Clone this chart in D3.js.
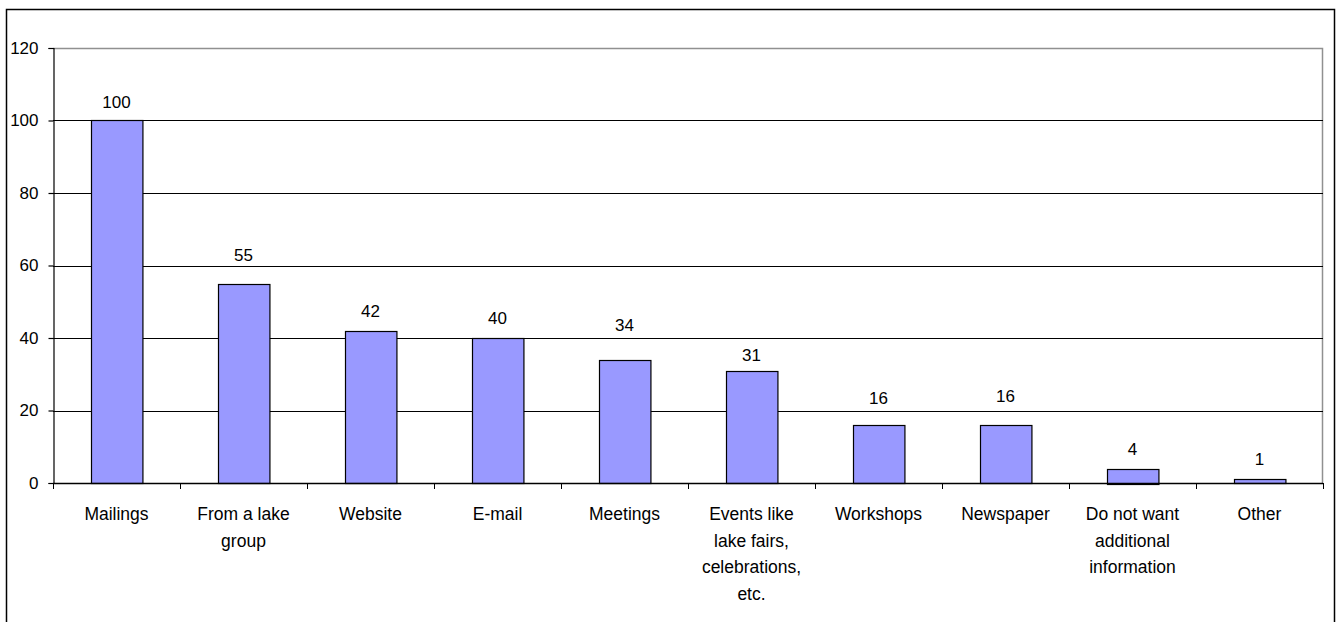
<!DOCTYPE html>
<html><head><meta charset="utf-8">
<script src="https://cdn.jsdelivr.net/npm/d3@7"></script>
<style>body{margin:0;background:#fff}svg{display:block}text{font-family:"Liberation Sans",Arial,sans-serif;fill:#000}</style>
</head><body><svg id="c" width="1336" height="622"></svg>
<script>
const categories = [["Mailings"],["From a lake","group"],["Website"],["E-mail"],["Meetings"],["Events like","lake fairs,","celebrations,","etc."],["Workshops"],["Newspaper"],["Do not want","additional","information"],["Other"]];
const values = [100,55,42,40,34,31,16,16,4,1];
const yTicks = [0,20,40,60,80,100,120];

const svg = d3.select("#c");
const L = 53, R = 1323, T = 48, B = 483;
// label gaps above bars (manually placed labels in the original)
const labelGap = [13,23,14,14,28.5,10,21,23.5,14,14];
svg.append("rect").attr("x",6.5).attr("y",9.5).attr("width",1328).attr("height",640).attr("fill","none").attr("stroke","#000").attr("stroke-width",1.5);

const x = d3.scaleBand().domain(d3.range(values.length)).range([L,R]).paddingInner(0.595).paddingOuter(0.2975);
const band = (R-L)/values.length;
const y = d3.scaleLinear().domain([0,120]).range([B,T]);

svg.append("path").attr("d",`M${L},${T+0.5}H${R-0.5}V${B}`).attr("fill","none").attr("stroke","#909090").attr("stroke-width",1.5);
svg.append("g").selectAll("line").data(yTicks.filter(t=>t>0&&t<120)).join("line")
  .attr("x1",L).attr("x2",R).attr("y1",d=>Math.round(y(d))+0.5).attr("y2",d=>Math.round(y(d))+0.5).attr("stroke","#000");
svg.append("g").selectAll("rect").data(values).join("rect")
  .attr("x",(d,i)=>Math.round(x(i))+0.5).attr("width",x.bandwidth()).attr("y",d=>Math.round(y(d))+0.5).attr("height",d=>Math.max(0,Math.round(B-y(d))))
  .attr("fill","#9999FF").attr("stroke","#000").attr("stroke-width",1.2);
svg.append("g").selectAll("text").data(values).join("text")
  .attr("x",(d,i)=>x(i)+x.bandwidth()/2).attr("y",(d,i)=>y(d)-labelGap[i]).attr("text-anchor","middle").attr("font-size","17px").text(d=>d);
const ya = d3.axisLeft(y).tickValues(yTicks).tickSize(5).tickPadding(10);
const gy = svg.append("g").attr("transform",`translate(${L+0.5},0)`).call(ya);
gy.selectAll("text").attr("font-size","17px").attr("font-family",'"Liberation Sans",Arial,sans-serif');
gy.selectAll("line,path").attr("stroke","#000").attr("stroke-width",1.2);
svg.append("line").attr("x1",L).attr("x2",R).attr("y1",B+0.5).attr("y2",B+0.5).attr("stroke","#000").attr("stroke-width",1.5);
svg.append("g").selectAll("line").data(d3.range(values.length+1)).join("line")
  .attr("x1",i=>Math.round(L+i*band)+0.5).attr("x2",i=>Math.round(L+i*band)+0.5).attr("y1",B).attr("y2",B+6).attr("stroke","#000");
const cl = svg.append("g").selectAll("text").data(categories).join("text")
  .attr("x",(d,i)=>x(i)+x.bandwidth()/2).attr("y",520).attr("text-anchor","middle").attr("font-size","17.5px");
cl.selectAll("tspan").data(d=>d).join("tspan").attr("x",function(){return this.parentNode.getAttribute("x");}).attr("dy",(d,j)=>j===0?0:26.5).text(d=>d);
</script></body></html>
